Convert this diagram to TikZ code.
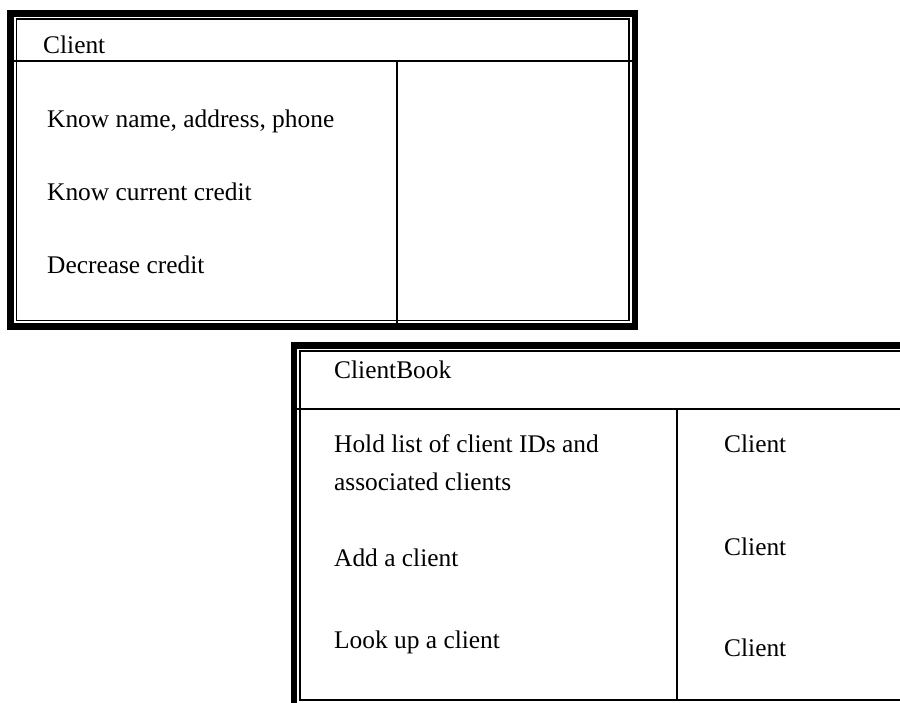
\documentclass[tikz,border=0pt]{standalone}
\usepackage{fontspec}
\setmainfont{Liberation Serif}
\usepackage{tikz}
\usetikzlibrary{positioning}

\begin{document}
\begin{tikzpicture}[x=1pt, y=-1pt]
  \tikzstyle{thickrim} = [line width=6.5pt, black]
  \tikzstyle{thinrim} = [line width=1.4pt, black]
  \tikzstyle{rule} = [line width=1.6pt, black]
  \tikzstyle{entry} = [anchor=base west, inner sep=0pt, font=\fontsize{25.4}{30}\selectfont]

  \useasboundingbox (0,0) rectangle (900,702);
  \clip (0,0) rectangle (900,702);

  % Card 1: Client
  \draw[thickrim] (10.5,13.5) rectangle (635,326.5);
  \draw[thinrim] (16.5,19) rectangle (629,320.5);
  \draw[rule] (14,61) -- (632,61);
  \draw[rule] (397,61) -- (397,323);

  \node[entry] (cname) at (43,53) {Client};
  \node[entry] (cresp1) at (47,127) {Know name, address, phone};
  \node[entry] (cresp2) at (47,200) {Know current credit};
  \node[entry] (cresp3) at (47,273) {Decrease credit};

  % Card 2: ClientBook (runs off the right and bottom edges)
  \draw[thickrim] (294,345.5) rectangle (920,720);
  \draw[thinrim] (300,351) rectangle (915,700);
  \draw[rule] (297,409) -- (915,409);
  \draw[rule] (677,409) -- (677,700);

  \node[entry] (bname) at (334,378) {ClientBook};
  \node[entry] (bresp1) at (334,452) {Hold list of client IDs and};
  \node[entry] (bresp1b) at (334,490) {associated clients};
  \node[entry] (bresp2) at (334,566) {Add a client};
  \node[entry] (bresp3) at (334,648) {Look up a client};
  \node[entry] (bcoll1) at (724,452) {Client};
  \node[entry] (bcoll2) at (724,555) {Client};
  \node[entry] (bcoll3) at (724,656) {Client};
\end{tikzpicture}
\end{document}
